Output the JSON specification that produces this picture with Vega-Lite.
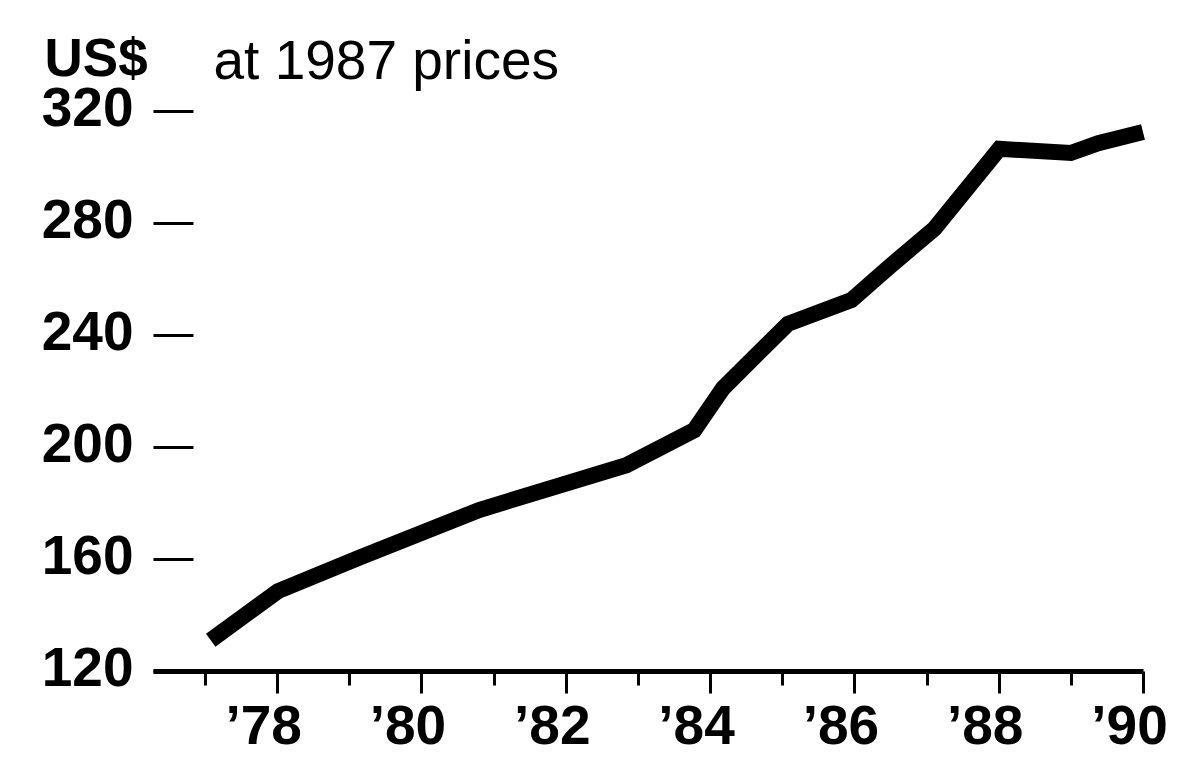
{
  "$schema": "https://vega.github.io/schema/vega-lite/v6.json",
  "width": 990,
  "height": 560,
  "autosize": {"type": "none"},
  "padding": {"left": 153, "top": 111, "right": 48, "bottom": 91},
  "background": "white",
  "config": {"view": {"stroke": null}, "font": "Liberation Sans"},
  "data": {
    "values": [
      {"year": 1977.08, "value": 131},
      {"year": 1978.01, "value": 148.5},
      {"year": 1979.14, "value": 160.5},
      {"year": 1980.8, "value": 177.5},
      {"year": 1982.84, "value": 193.5},
      {"year": 1983.78, "value": 206},
      {"year": 1984.18, "value": 221},
      {"year": 1985.08, "value": 244},
      {"year": 1985.96, "value": 252.5},
      {"year": 1986.49, "value": 264.5},
      {"year": 1987.11, "value": 278},
      {"year": 1988.01, "value": 306.5},
      {"year": 1989.0, "value": 305},
      {"year": 1989.38, "value": 308.5},
      {"year": 1990.0, "value": 312.5}
    ]
  },
  "mark": {"type": "line", "color": "black", "strokeWidth": 16},
  "encoding": {
    "x": {
      "field": "year",
      "type": "quantitative",
      "scale": {"domain": [1976.28, 1990], "nice": false, "zero": false},
      "axis": {
        "values": [1977, 1978, 1979, 1980, 1981, 1982, 1983, 1984, 1985, 1986, 1987, 1988, 1989, 1990],
        "title": "US$",
        "titleAngle": 0,
        "titleAlign": "left",
        "titleBaseline": "alphabetic",
        "titleX": -109,
        "titleY": -596,
        "titleFont": "Liberation Sans",
        "titleFontSize": 53,
        "titleFontWeight": "bold",
        "titleColor": "black",
        "grid": false,
        "domain": true,
        "domainColor": "black",
        "domainWidth": 5,
        "ticks": true,
        "tickColor": "black",
        "tickWidth": 3,
        "tickSize": {"condition": {"test": "datum.value % 2 == 0", "value": 22}, "value": 14},
        "labelExpr": "datum.value % 2 == 0 ? '’' + slice(toString(datum.value), 2) : ''",
        "labelFont": "Liberation Sans",
        "labelFontSize": 55,
        "labelFontWeight": "bold",
        "labelColor": "black",
        "labelPadding": 7,
        "labelOffset": -14,
        "labelBaseline": "top",
        "labelFlush": false,
        "labelOverlap": false
      }
    },
    "y": {
      "field": "value",
      "type": "quantitative",
      "scale": {"domain": [120, 320], "nice": false, "zero": false},
      "axis": {
        "values": [120, 160, 200, 240, 280, 320],
        "title": "at 1987 prices",
        "titleAngle": 0,
        "titleAlign": "left",
        "titleBaseline": "alphabetic",
        "titleX": 60,
        "titleY": -33,
        "titleFont": "Liberation Sans",
        "titleFontSize": 55,
        "titleFontWeight": "normal",
        "titleColor": "black",
        "grid": false,
        "domain": false,
        "ticks": true,
        "tickSize": -40,
        "tickWidth": 3,
        "tickColor": "black",
        "labelFont": "Liberation Sans",
        "labelFontSize": 55,
        "labelFontWeight": "bold",
        "labelColor": "black",
        "labelPadding": 60,
        "labelOffset": -3,
        "labelFlush": false,
        "labelOverlap": false
      }
    }
  }
}
